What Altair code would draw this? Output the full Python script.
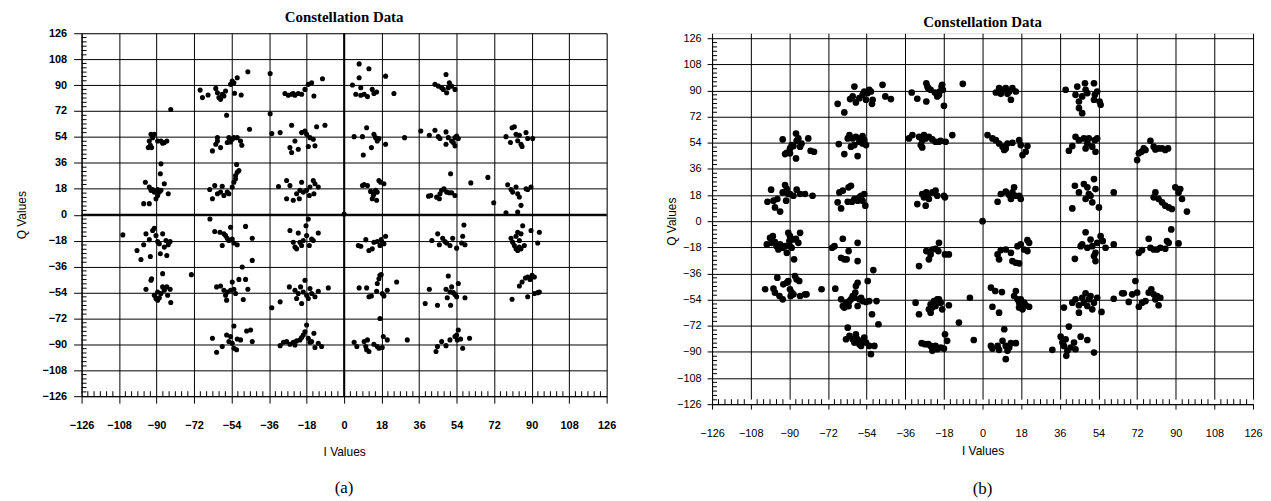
import altair as alt
import pandas as pd

TICKS = list(range(-126, 127, 18))
MINOR = [v for v in range(-126, 127, 3) if v % 18 != 0]

A_POINTS = [
    # (-90, 54)
    (-92.7, 55.8), (-91.9, 53.5), (-93.5, 51.2), (-94.0, 46.6), (-92.4, 46.6), (-91.1, 55.8),
    (-89.5, 51.2), (-87.9, 51.2), (-86.3, 50.1), (-85.1, 51.2), (-93.0, 48.2), (-87.1, 49.6), (-83.2, 73.1),
    # (-90, 18)
    (-95.4, 22.6), (-93.5, 19.2), (-92.7, 16.9), (-91.1, 15.7), (-90.3, 11.1), (-89.5, 13.4), (-88.7, 15.7),
    (-87.9, 16.9), (-86.3, 21.5), (-84.4, 14.6), (-88.2, 28.4), (-87.9, 35.3), (-96.2, 7.7), (-93.5, 7.7),
    (-89.5, 17.5), (-91.9, 17.5),
    # (-54, 90)
    (-69.1, 86.5), (-68.0, 81.3), (-65.3, 83.1), (-61.6, 87.7), (-60.8, 84.7), (-60.1, 81.3), (-59.3, 80.1),
    (-58.5, 83.6), (-57.7, 82.4), (-56.9, 85.9), (-54.5, 90.5), (-53.7, 92.8), (-52.9, 91.6), (-51.3, 95.1),
    (-52.6, 84.3), (-49.4, 83.1), (-46.2, 99.2), (-56.4, 69.1),
    # (-54, 54)
    (-63.2, 44.3), (-61.6, 48.9), (-60.8, 53.5), (-59.3, 46.6), (-56.1, 50.1), (-54.5, 50.5), (-53.7, 52.4),
    (-52.9, 53.5), (-51.3, 53.5), (-49.7, 51.2), (-49.1, 48.2), (-45.4, 59.3), (-60.8, 51.2), (-55.3, 53.5),
    # (-54, 18)
    (-64.5, 17.5), (-63.2, 11.1), (-62.1, 20.3), (-60.8, 14.6), (-59.3, 15.7), (-58.5, 19.8), (-57.7, 13.4),
    (-56.1, 15.7), (-55.3, 14.6), (-53.7, 19.2), (-52.9, 22.6), (-52.1, 24.9), (-51.3, 29.5), (-50.5, 30.7),
    (-51.6, 34.9), (-52.1, 27.2),
    # (-18, 90)
    (-35.5, 98.0), (-28.4, 84.2), (-26.8, 82.9), (-25.2, 83.6), (-23.6, 82.9), (-22.0, 84.2), (-20.4, 83.6),
    (-18.8, 87.0), (-17.2, 90.5), (-15.6, 91.6), (-14.5, 82.4), (-10.4, 94.4), (-24.4, 84.2),
    # (-18, 54)
    (-35.5, 70.1), (-34.7, 56.3), (-30.7, 57.0), (-25.2, 62.1), (-23.6, 51.2), (-26.0, 46.6), (-25.2, 43.2),
    (-22.0, 45.5), (-20.4, 57.0), (-18.8, 58.1), (-18.0, 55.8), (-16.4, 53.5), (-14.8, 52.4), (-14.0, 47.8),
    (-13.2, 61.1), (-9.2, 62.1), (-17.2, 47.3),
    # (-18, 18)
    (-31.5, 19.6), (-27.6, 23.8), (-26.0, 20.3), (-27.6, 11.1), (-24.4, 10.0), (-22.8, 14.6), (-21.2, 16.9),
    (-20.4, 22.6), (-19.6, 15.7), (-18.0, 16.9), (-16.7, 13.4), (-16.4, 19.2), (-14.8, 23.8), (-14.0, 21.5),
    (-12.4, 19.2), (-14.5, 14.6), (-21.5, 11.1),
    # (18, 90)
    (4.0, 90.0), (7.2, 104.7), (7.2, 95.1), (8.0, 88.2), (5.6, 83.6), (8.0, 82.9), (11.2, 82.0), (11.9, 101.3),
    (13.5, 87.0), (14.3, 84.2), (15.6, 85.2), (19.9, 96.2), (23.9, 84.2), (9.6, 83.6),
    # (54, 90)
    (43.6, 90.5), (45.2, 89.3), (46.8, 88.2), (47.6, 87.0), (48.9, 97.4), (49.2, 84.7), (50.5, 91.6),
    (51.6, 89.3), (53.2, 87.0), (50.0, 88.2),
    # (18, 54)
    (4.8, 54.2), (8.8, 54.2), (9.2, 41.4), (10.8, 60.4), (13.1, 46.6), (14.3, 55.8), (15.1, 53.5),
    (15.9, 51.2), (19.9, 48.9), (29.0, 53.5), (16.7, 52.9),
    # (54, 54)
    (36.8, 58.1), (40.9, 55.2), (43.6, 58.6), (45.2, 54.2), (46.0, 52.9), (48.9, 57.5), (48.9, 48.9),
    (50.0, 53.5), (51.6, 51.2), (53.2, 53.5), (54.0, 54.7), (53.2, 47.8), (52.4, 50.1), (54.8, 52.9),
    # (90, 54)
    (77.7, 54.2), (79.8, 50.1), (80.6, 60.4), (81.7, 61.1), (82.5, 55.8), (84.1, 55.2), (84.9, 48.9),
    (85.4, 47.3), (87.3, 57.0), (88.1, 52.9), (90.5, 52.9), (83.3, 51.4),
    # (18, 18)
    (8.8, 20.3), (9.6, 21.0), (11.2, 20.3), (12.7, 16.2), (13.5, 11.1), (14.3, 14.6), (15.1, 16.9),
    (15.9, 15.7), (16.7, 23.8), (17.5, 22.6), (19.1, 21.5), (15.6, 10.0), (14.0, 13.4),
    # (54, 18)
    (40.5, 12.9), (41.6, 13.4), (44.4, 12.2), (45.7, 11.1), (46.8, 16.9), (47.9, 18.0), (49.2, 15.7),
    (50.5, 15.2), (51.6, 15.2), (53.2, 13.4), (51.1, 28.4), (46.0, 14.6), (60.8, 22.1), (69.0, 25.9),
    # (90, 18)
    (71.8, 8.3), (77.7, 1.4), (78.5, 20.8), (80.1, 17.5), (80.9, 15.7), (82.5, 19.2), (83.3, 14.6),
    (84.1, 12.3), (84.9, 6.5), (83.3, 1.9), (87.3, 18.0), (89.7, 19.2), (88.1, 17.5),
    # (-90, -18)
    (-106.2, -14.0), (-99.4, -24.8), (-97.5, -31.1), (-96.2, -20.9), (-95.1, -13.3), (-93.5, -17.3),
    (-93.0, -29.0), (-91.9, -11.0), (-91.1, -9.4), (-90.3, -14.5), (-89.5, -18.6), (-88.2, -27.1),
    (-87.1, -13.3), (-86.3, -22.5), (-85.5, -17.9), (-85.1, -28.3), (-84.4, -20.9), (-83.5, -18.6), (-88.7, -20.2),
    # (-90, -54)
    (-95.1, -51.8), (-92.7, -45.5), (-92.4, -44.4), (-91.1, -55.9), (-90.3, -58.2), (-89.5, -53.6),
    (-88.7, -57.7), (-87.9, -54.7), (-87.1, -40.9), (-87.1, -50.1), (-86.3, -52.4), (-85.1, -50.1),
    (-84.7, -55.9), (-83.5, -51.8), (-83.2, -60.9), (-73.3, -41.6), (-89.5, -59.3),
    # (-54, -18)
    (-64.4, -3.0), (-62.1, -11.7), (-59.6, -12.2), (-58.5, -21.4), (-57.7, -13.3), (-56.9, -14.5),
    (-56.1, -16.3), (-55.3, -17.9), (-54.5, -8.7), (-53.7, -16.8), (-52.9, -19.6), (-51.3, -20.9),
    (-47.3, -8.1), (-44.1, -16.3), (-44.1, -31.7), (-48.9, -36.3),
    # (-54, -54)
    (-61.2, -50.1), (-59.3, -49.5), (-57.7, -52.4), (-56.9, -55.9), (-56.1, -53.6), (-54.5, -52.4),
    (-53.7, -46.7), (-52.9, -51.8), (-52.1, -54.7), (-50.5, -44.9), (-48.4, -58.9), (-47.3, -44.9),
    (-46.2, -51.8), (-56.4, -59.3),
    # (-54, -90)
    (-63.2, -85.8), (-61.2, -95.5), (-58.5, -91.5), (-56.4, -83.5), (-55.3, -88.1), (-54.5, -84.6),
    (-53.7, -89.2), (-52.9, -92.7), (-51.6, -93.8), (-51.3, -86.3), (-49.7, -86.9), (-46.8, -80.7),
    (-44.9, -80.0), (-44.1, -88.1), (-52.9, -77.3),
    # (-18, -18)
    (-26.0, -11.0), (-24.4, -19.1), (-23.6, -22.5), (-22.0, -12.7), (-21.2, -19.1), (-20.4, -21.4),
    (-19.6, -17.9), (-18.3, -7.6), (-18.0, -14.5), (-17.2, -3.0), (-16.7, -21.4), (-15.6, -16.8),
    (-14.8, -17.9), (-12.4, -12.7), (-22.8, -23.7),
    # (-18, -54)
    (-34.7, -64.6), (-30.7, -60.5), (-26.3, -50.1), (-23.6, -52.4), (-22.8, -58.2), (-22.0, -54.7),
    (-20.9, -50.1), (-19.6, -53.6), (-18.8, -45.5), (-18.0, -55.9), (-17.2, -58.2), (-16.4, -51.3),
    (-15.6, -54.7), (-14.0, -57.0), (-12.4, -53.1), (-7.6, -50.8), (-20.4, -61.6),
    # (-18, -90)
    (-30.7, -90.9), (-29.1, -88.6), (-27.6, -88.1), (-26.0, -89.9), (-24.4, -88.6), (-23.6, -90.4),
    (-22.8, -87.6), (-21.2, -86.9), (-20.4, -85.3), (-19.6, -83.5), (-18.8, -81.2), (-18.0, -76.6),
    (-17.2, -85.8), (-16.4, -88.6), (-15.6, -88.1), (-14.5, -82.3), (-14.0, -92.2), (-12.4, -89.2), (-10.8, -91.5),
    # origin
    (0.0, 0.5),
    # (18, -18)
    (6.8, -21.4), (8.0, -21.9), (10.4, -17.3), (11.9, -24.8), (13.5, -23.7), (14.3, -19.1), (15.9, -18.6),
    (17.2, -21.4), (18.3, -19.1), (19.1, -20.2), (19.9, -15.0), (17.8, -17.3),
    # (54, -18)
    (42.1, -17.9), (44.9, -13.3), (45.7, -20.9), (47.3, -16.3), (48.4, -18.6), (49.2, -19.6), (50.8, -21.4),
    (52.1, -16.3), (54.0, -23.2), (56.4, -19.6), (57.5, -7.1), (56.9, -15.0), (58.0, -20.9),
    # (90, -18)
    (80.1, -16.3), (80.9, -19.1), (81.7, -21.4), (82.5, -15.0), (83.3, -12.2), (84.1, -17.9), (84.9, -13.3),
    (84.9, -23.7), (85.7, -7.6), (86.5, -21.4), (89.7, -11.0), (92.9, -19.6), (93.7, -12.2), (83.3, -24.8),
    (84.1, -22.5), (82.5, -23.7),
    # (18, -54)
    (7.2, -50.8), (10.8, -50.8), (11.9, -57.0), (13.1, -56.4), (15.6, -53.1), (15.9, -47.8), (16.7, -44.4),
    (17.2, -42.1), (17.8, -41.6), (18.3, -54.7), (19.1, -56.4), (20.7, -52.4), (25.2, -46.7), (17.2, -72.0),
    # (54, -54)
    (38.9, -61.6), (40.9, -51.8), (44.8, -62.8), (48.9, -51.8), (49.5, -57.7), (50.0, -42.6), (51.1, -62.8),
    (51.6, -50.1), (52.4, -54.1), (53.2, -55.4), (54.0, -57.0), (54.8, -47.8), (58.0, -57.7), (50.8, -53.6),
    # (90, -54)
    (80.6, -58.7), (84.1, -49.5), (85.4, -46.7), (87.0, -43.9), (88.1, -43.2), (90.2, -42.1), (91.3, -43.2),
    (88.1, -57.0), (91.3, -54.7), (92.9, -54.1), (93.7, -53.6), (89.2, -44.9),
    # (18, -90)
    (4.8, -88.6), (6.1, -91.5), (9.6, -88.1), (10.4, -91.5), (10.8, -93.8), (11.9, -95.0), (11.2, -86.9),
    (14.3, -89.9), (15.9, -91.5), (16.7, -92.7), (18.3, -92.2), (18.8, -84.6), (20.7, -86.9), (30.3, -86.9),
    # (54, -90)
    (44.1, -95.0), (44.8, -91.5), (46.8, -88.1), (48.9, -90.9), (50.8, -86.9), (53.2, -84.6), (54.0, -83.5),
    (54.8, -80.0), (54.3, -86.9), (55.9, -86.3), (56.9, -92.7), (60.2, -85.8),
]

B_POINTS = [
    # (-90, 54)
    (-93.1, 56.3), (-92.0, 46.2), (-91.2, 47.1), (-89.7, 50.1), (-88.9, 52.4), (-88.1, 51.7), (-86.9, 60.4),
    (-86.6, 55.4), (-85.8, 57.0), (-85.0, 51.3), (-84.3, 53.5), (-86.9, 43.2), (-81.2, 57.0), (-80.1, 48.5),
    (-78.5, 47.8), (-89.7, 46.7),
    # (-90, 18)
    (-100.2, 13.4), (-98.5, 21.7), (-97.4, 14.1), (-96.7, 9.5), (-94.3, 6.6), (-93.1, 19.8), (-92.0, 24.9),
    (-91.5, 14.1), (-91.2, 22.1), (-90.5, 18.7), (-89.7, 18.7), (-88.1, 17.5), (-86.6, 21.7), (-85.0, 18.7),
    (-82.7, 18.7), (-79.2, 17.5), (-95.6, 15.3),
    # (-54, 90)
    (-67.5, 80.8), (-64.4, 74.9), (-61.7, 84.1), (-60.5, 85.9), (-59.7, 92.7), (-59.0, 81.8), (-57.4, 84.7),
    (-55.9, 87.0), (-55.1, 89.3), (-53.5, 88.2), (-52.8, 90.5), (-52.0, 89.3), (-51.5, 80.8), (-51.2, 83.6),
    (-46.6, 93.9), (-45.3, 85.9), (-42.7, 84.1), (-54.3, 83.6),
    # (-54, 54)
    (-67.0, 53.1), (-64.4, 46.2), (-62.8, 57.0), (-62.0, 59.3), (-60.5, 57.0), (-59.7, 52.4), (-58.2, 44.8),
    (-57.4, 54.7), (-56.6, 57.0), (-55.9, 53.5), (-55.1, 55.8), (-54.3, 52.4), (-61.3, 51.3), (-59.0, 58.1),
    (-55.9, 58.6),
    # (-54, 18)
    (-67.5, 13.0), (-66.7, 19.8), (-65.9, 8.8), (-65.1, 21.0), (-62.8, 13.4), (-62.4, 23.3), (-61.3, 24.4),
    (-60.8, 13.4), (-59.7, 15.3), (-58.2, 14.1), (-57.4, 16.4), (-56.6, 17.5), (-55.9, 14.1), (-55.1, 18.7),
    (-54.6, 10.7),
    # (-18, 90)
    (-33.0, 88.6), (-30.4, 84.3), (-26.2, 95.0), (-25.7, 92.7), (-25.3, 91.6), (-26.2, 82.4), (-24.2, 90.5),
    (-22.2, 88.6), (-21.1, 85.9), (-20.0, 89.3), (-19.1, 92.7), (-18.8, 93.9), (-18.5, 90.5), (-18.0, 79.5),
    (-9.2, 94.6), (-20.3, 87.0),
    # (-18, 54)
    (-34.3, 57.0), (-32.7, 59.3), (-29.6, 58.1), (-28.8, 52.4), (-28.1, 55.8), (-27.3, 59.3), (-26.5, 57.0),
    (-25.0, 58.1), (-23.4, 56.3), (-21.9, 54.7), (-20.3, 54.7), (-19.5, 55.4), (-17.2, 54.7), (-14.1, 59.3),
    (-28.1, 50.8),
    # (-18, 18)
    (-30.4, 11.8), (-28.1, 18.7), (-27.3, 16.4), (-26.5, 10.7), (-26.2, 19.8), (-25.7, 17.1), (-25.0, 15.3),
    (-23.4, 19.8), (-21.9, 21.0), (-21.1, 17.5), (-18.0, 17.5), (-17.5, 16.4),
    # (18, 90)
    (6.2, 88.6), (7.7, 91.6), (9.3, 90.5), (10.8, 91.6), (12.4, 89.3), (13.2, 83.6), (13.9, 91.6),
    (15.5, 89.3), (8.5, 87.7), (11.6, 87.7),
    # (54, 90)
    (38.7, 90.5), (43.3, 87.0), (44.1, 92.7), (44.9, 82.4), (44.9, 77.9), (46.4, 74.4), (47.7, 95.0),
    (48.0, 90.5), (48.8, 88.2), (51.9, 95.0), (52.3, 87.0), (53.4, 89.3), (54.5, 82.4), (55.0, 80.2),
    (46.4, 85.9), (51.9, 83.6),
    # (18, 54)
    (2.3, 59.3), (4.6, 57.0), (6.2, 55.8), (7.7, 53.5), (9.3, 51.3), (10.1, 49.0), (11.6, 53.5), (13.9, 54.0),
    (17.0, 55.8), (17.8, 52.4), (18.6, 45.5), (20.1, 47.8), (20.9, 51.7), (10.8, 50.1),
    # (54, 54)
    (40.2, 48.5), (41.8, 51.7), (43.3, 58.1), (44.9, 55.8), (47.2, 57.0), (48.0, 50.1), (48.8, 53.5),
    (49.5, 57.0), (51.1, 51.3), (52.3, 55.8), (53.4, 57.0), (52.6, 47.8),
    # (90, 54)
    (72.0, 42.1), (72.8, 46.7), (74.0, 47.8), (75.1, 50.1), (75.9, 49.0), (78.2, 55.4), (79.7, 51.3),
    (80.5, 49.4), (82.0, 50.1), (83.6, 50.1), (85.1, 49.0), (86.4, 50.1),
    # (18, 18)
    (7.0, 13.4), (8.5, 18.7), (10.8, 20.3), (12.4, 18.0), (13.2, 15.3), (13.9, 19.8), (14.7, 23.3),
    (15.5, 17.5), (17.0, 17.5), (17.8, 15.3),
    # (54, 18)
    (41.8, 8.8), (43.0, 24.4), (44.9, 19.8), (47.2, 25.6), (48.0, 15.3), (48.8, 23.3), (49.5, 18.7),
    (50.3, 17.5), (51.9, 29.0), (52.6, 22.1), (54.2, 9.5), (61.1, 19.8), (51.1, 13.0),
    # (90, 18)
    (79.7, 16.4), (80.5, 19.8), (82.0, 15.3), (83.6, 13.0), (85.1, 10.7), (86.7, 9.5), (88.2, 8.4),
    (89.8, 23.3), (91.3, 19.8), (92.1, 22.1), (92.9, 15.3), (95.2, 6.6),
    # (-90, -18)
    (-100.5, -16.0), (-99.0, -11.5), (-97.7, -10.3), (-96.7, -14.4), (-95.9, -17.2), (-95.1, -19.5),
    (-94.3, -16.0), (-93.1, -18.3), (-92.0, -17.2), (-91.2, -21.8), (-90.5, -8.0), (-90.0, -13.7),
    (-89.7, -10.3), (-88.9, -18.3), (-88.1, -12.6), (-87.8, -26.3), (-86.9, -12.1), (-85.8, -14.9),
    (-85.0, -8.0), (-89.7, -17.2), (-98.2, -14.9),
    # (-90, -54)
    (-101.3, -46.9), (-97.4, -46.5), (-96.7, -49.2), (-95.6, -38.9), (-94.6, -51.5), (-93.1, -53.8),
    (-92.8, -43.5), (-90.5, -41.2), (-89.7, -46.9), (-89.4, -51.5), (-88.1, -50.4), (-87.4, -37.8),
    (-86.6, -40.1), (-85.4, -41.2), (-85.0, -51.5), (-82.7, -50.4), (-82.0, -50.4), (-75.0, -46.9),
    (-88.9, -49.2), (-91.2, -42.4),
    # (-54, -18)
    (-70.1, -18.3), (-69.0, -17.2), (-65.9, -25.2), (-65.1, -12.1), (-64.4, -26.3), (-63.3, -26.3),
    (-62.4, -20.6), (-58.2, -14.9), (-58.2, -27.5),
    # (-54, -54)
    (-68.6, -46.5), (-65.9, -53.8), (-65.1, -58.4), (-64.4, -59.5), (-63.6, -56.1), (-62.8, -58.4),
    (-62.0, -55.0), (-61.3, -53.8), (-60.5, -51.5), (-59.7, -52.7), (-59.3, -49.2), (-59.0, -44.7),
    (-58.2, -42.4), (-57.4, -53.8), (-56.6, -52.7), (-55.9, -55.0), (-54.3, -55.6), (-53.5, -41.2),
    (-52.8, -55.0), (-51.5, -64.1), (-49.4, -55.0), (-48.5, -71.0), (-50.9, -33.7), (-62.4, -58.4), (-58.2, -58.4),
    # (-54, -90)
    (-62.8, -73.3), (-63.6, -81.3), (-62.0, -79.0), (-60.5, -81.3), (-59.7, -83.6), (-59.0, -77.9),
    (-58.2, -81.3), (-57.4, -84.7), (-56.6, -85.9), (-55.9, -82.4), (-54.3, -83.6), (-52.8, -85.9),
    (-52.0, -91.6), (-50.4, -85.9), (-55.1, -80.2),
    # (-18, -18)
    (-29.6, -30.9), (-26.2, -20.6), (-25.0, -26.3), (-24.2, -22.9), (-23.4, -19.5), (-20.3, -14.9),
    (-20.6, -20.6), (-17.5, -22.9), (-15.7, -22.9), (-21.9, -19.0),
    # (-18, -54)
    (-31.2, -56.1), (-29.6, -64.1), (-25.0, -60.7), (-24.2, -57.3), (-23.4, -59.5), (-22.6, -55.0),
    (-21.9, -58.4), (-21.1, -53.8), (-20.3, -53.8), (-19.5, -56.1), (-18.8, -60.7), (-15.7, -57.9),
    (-11.0, -69.8), (-5.9, -52.7), (-24.2, -63.0),
    # (-18, -90)
    (-28.4, -84.0), (-26.8, -84.7), (-25.3, -84.7), (-24.2, -85.9), (-23.4, -89.3), (-21.9, -85.9),
    (-21.1, -88.2), (-19.5, -87.0), (-18.0, -87.7), (-17.5, -77.9), (-16.5, -82.4), (-4.1, -81.8),
    # origin
    (0.0, 0.0),
    # (18, -18)
    (7.0, -22.9), (7.7, -26.3), (8.5, -19.9), (10.8, -19.5), (13.2, -21.8), (13.9, -27.5), (15.5, -28.6),
    (17.0, -29.1), (16.3, -17.2), (17.8, -16.0), (19.4, -19.5), (20.9, -13.1), (21.7, -14.9), (20.9, -20.6),
    # (54, -18)
    (43.0, -25.9), (45.7, -17.2), (46.4, -16.0), (48.0, -7.6), (48.8, -18.3), (50.3, -12.6), (51.1, -17.2),
    (51.9, -24.0), (52.6, -27.5), (53.4, -14.9), (55.0, -10.3), (56.0, -13.7), (57.3, -18.3), (61.1, -16.0),
    (52.6, -21.8),
    # (90, -18)
    (72.8, -21.8), (74.3, -19.9), (77.4, -12.1), (78.2, -18.3), (79.7, -19.5), (81.3, -19.5), (82.8, -18.3),
    (85.1, -19.0), (85.9, -13.7), (86.7, -14.9), (87.9, -5.7), (91.3, -15.3),
    # (18, -54)
    (3.9, -45.8), (5.9, -48.1), (9.0, -48.8), (4.6, -58.9), (7.7, -63.0), (14.7, -51.5), (15.5, -48.1),
    (16.3, -53.8), (17.0, -56.1), (17.0, -59.5), (17.8, -53.8), (18.6, -60.7), (19.4, -56.1), (20.1, -57.9),
    (21.7, -58.9),
    # (54, -54)
    (37.9, -59.5), (40.2, -72.6), (41.8, -56.1), (43.3, -53.8), (44.9, -63.0), (46.4, -52.7), (47.2, -56.1),
    (48.0, -49.7), (48.8, -58.4), (49.5, -53.8), (50.3, -51.5), (51.1, -60.7), (51.9, -56.1), (53.4, -52.7),
    (55.4, -62.5), (44.9, -57.9),
    # (72..84, -54)
    (61.1, -53.4), (65.0, -49.7), (65.8, -49.7), (68.1, -55.6), (71.2, -41.2), (72.8, -58.9), (72.0, -49.2),
    (74.3, -56.1), (75.9, -55.0), (77.4, -49.2), (78.6, -46.9), (79.7, -50.4), (80.5, -53.8), (81.3, -51.5),
    (82.0, -57.9), (82.8, -52.7), (69.7, -50.4),
    # (18, -90)
    (3.9, -85.9), (4.6, -87.7), (7.7, -88.6), (9.3, -82.4), (10.1, -74.4), (10.8, -85.9), (11.6, -89.3),
    (12.4, -87.0), (13.2, -84.0), (15.5, -84.0), (10.8, -95.0), (7.0, -85.9),
    # (36..54, -90)
    (32.5, -88.6), (36.4, -79.5), (37.2, -83.6), (37.9, -85.9), (38.7, -81.3), (39.0, -92.7), (39.5, -89.3),
    (41.0, -87.0), (42.6, -83.6), (43.3, -88.2), (45.7, -79.5), (48.8, -81.8), (51.9, -90.5),
]

SANS = "Liberation Sans"
SERIF = "Liberation Serif"


def panel(points, w, h, y_top, caption, title_offset, caption_y, dot, x_axis, y_axis, zero_width):
    pts = pd.DataFrame(points, columns=["I", "Q"])
    xs = alt.Scale(domain=[-126, 126], nice=False, zero=False)
    ys = alt.Scale(domain=[-126, 126], nice=False, zero=False, range=[h, y_top])
    X = lambda: alt.X("I:Q", scale=xs, axis=x_axis)
    Y = lambda: alt.Y("Q:Q", scale=ys, axis=y_axis)

    dots = alt.Chart(pts).mark_circle(size=dot, color="black", opacity=1).encode(x=X(), y=Y())
    minor_x = alt.Chart(pd.DataFrame({"I": MINOR})).mark_rule(color="black", strokeWidth=1).encode(
        x=X(), y=alt.value(h), y2=alt.value(h - 5),
    )
    minor_y = alt.Chart(pd.DataFrame({"Q": MINOR})).mark_rule(color="black", strokeWidth=1).encode(
        y=Y(), x=alt.value(0), x2=alt.value(5),
    )
    layers = [minor_x, minor_y]
    if zero_width > 1:
        zx = alt.Chart(pd.DataFrame({"I": [0]})).mark_rule(color="black", strokeWidth=zero_width).encode(
            x=X(), y=alt.value(y_top), y2=alt.value(h))
        zy = alt.Chart(pd.DataFrame({"Q": [0]})).mark_rule(color="black", strokeWidth=zero_width).encode(
            y=Y(), x=alt.value(0), x2=alt.value(w))
        layers += [zx, zy]
    cap = alt.Chart(pd.DataFrame({"c": [caption]})).mark_text(
        font=SERIF, fontSize=17, color="black", baseline="middle", align="center"
    ).encode(text="c:N", x=alt.value(w / 2), y=alt.value(caption_y))
    return alt.layer(dots, *layers, cap).properties(
        width=w, height=h,
        title=alt.TitleParams("Constellation Data", font=SERIF, fontSize=15, fontWeight="bold",
                              color="black", offset=title_offset, anchor="middle"),
    )


common = dict(values=TICKS, grid=True, gridColor="black", gridOpacity=1, gridWidth=1,
              domainColor="black", domainWidth=1, tickColor="black", labelColor="black",
              titleColor="black", labelFlush=False, titleFont=SANS, titleFontSize=12,
              titleFontWeight="normal", labelFont=SANS)

ax_a_x = alt.Axis(title="I Values", tickSize=7, labelPadding=16, labelFontSize=11,
                  labelFontWeight="bold", titlePadding=17, **common)
ax_a_y = alt.Axis(title="Q Values", tickSize=8, labelPadding=7, labelFontSize=11,
                  labelFontWeight="bold", titlePadding=11, minExtent=42, maxExtent=42, **common)
ax_b_x = alt.Axis(title="I Values", tickSize=5, labelPadding=19, labelFontSize=11,
                  labelFontWeight="normal", titlePadding=7, **common)
ax_b_y = alt.Axis(title="Q Values", tickSize=5, labelPadding=6, labelFontSize=11,
                  labelFontWeight="normal", titlePadding=0, minExtent=34, maxExtent=34, **common)

chart_a = panel(A_POINTS, 528, 365, 0, "(a)", 2, 457, 26, ax_a_x, ax_a_y, 2)
chart_b = panel(B_POINTS, 544, 373, 5, "(b)", 2, 458, 45, ax_b_x, ax_b_y, 1)

chart = alt.hconcat(chart_a, chart_b, spacing=48).properties(
    padding={"left": 7, "top": 0, "right": 0, "bottom": 0}
).configure_view(stroke="transparent").configure(background="white")

chart.save("out.html", embed_options={"renderer": "svg", "actions": False})
